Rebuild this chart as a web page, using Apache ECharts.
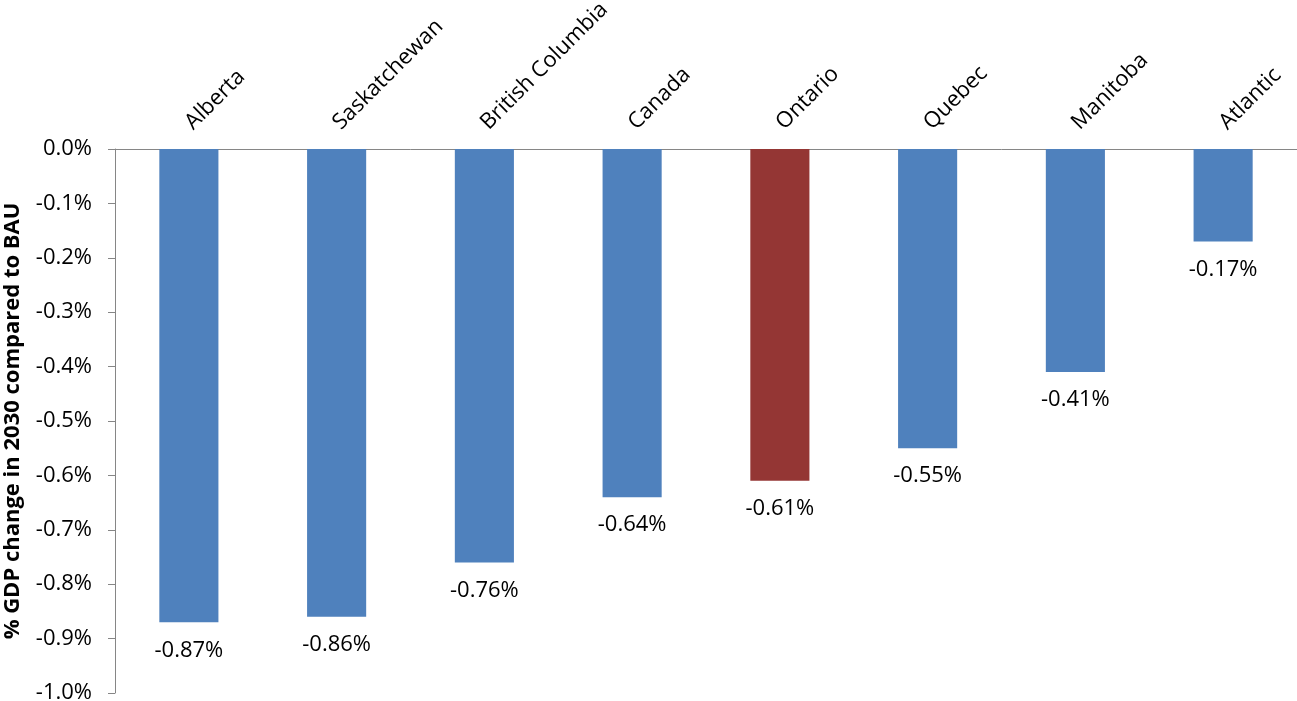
<!DOCTYPE html>
<html><head><meta charset="utf-8">
<script src="https://cdn.jsdelivr.net/npm/echarts@6/dist/echarts.min.js"></script>
<style>html,body{margin:0;padding:0;background:#fff}#c{width:1297px;height:701px}</style>
</head><body><div id="c"></div>
<script>
const categories = ['Alberta','Saskatchewan','British Columbia','Canada','Ontario','Quebec','Manitoba','Atlantic'];
const values = [-0.87,-0.86,-0.76,-0.64,-0.61,-0.55,-0.41,-0.17];
const highlight = 'Ontario';
const FONT = 'Open Sans';
const chart = echarts.init(document.getElementById('c'));
chart.setOption({
  animation:false,
  grid:{left:115,top:149,right:0,bottom:8,containLabel:false,outerBoundsMode:'none'},
  xAxis:{type:'category',data:categories,position:'top',
    axisLine:{lineStyle:{color:'#868686',width:1}},
    axisTick:{inside:true,length:7,lineStyle:{color:'#868686'}},
    axisLabel:{rotate:45,color:'#000',fontFamily:FONT,fontSize:22,margin:23,interval:0}},
  yAxis:{type:'value',min:-1,max:0,interval:0.1,
    name:'% GDP change in 2030 compared to BAU',nameLocation:'middle',nameGap:91,
    nameTextStyle:{fontFamily:FONT,fontSize:22,fontWeight:'bold',color:'#000'},
    splitLine:{show:false},
    axisLine:{show:true,lineStyle:{color:'#868686'}},
    axisTick:{show:true,length:7,lineStyle:{color:'#868686'}},
    axisLabel:{color:'#000',fontFamily:FONT,fontSize:22,margin:23,formatter:v=>v.toFixed(1)+'%'}},
  series:[{type:'bar',barWidth:'40%',
    data:values.map((v,i)=>({value:v,itemStyle:{color:categories[i]===highlight?'#943634':'#4F81BD'}})),
    label:{show:true,position:'bottom',distance:17,color:'#000',fontFamily:FONT,fontSize:22,formatter:p=>p.value.toFixed(2)+'%'}}]
});
</script></body></html>
